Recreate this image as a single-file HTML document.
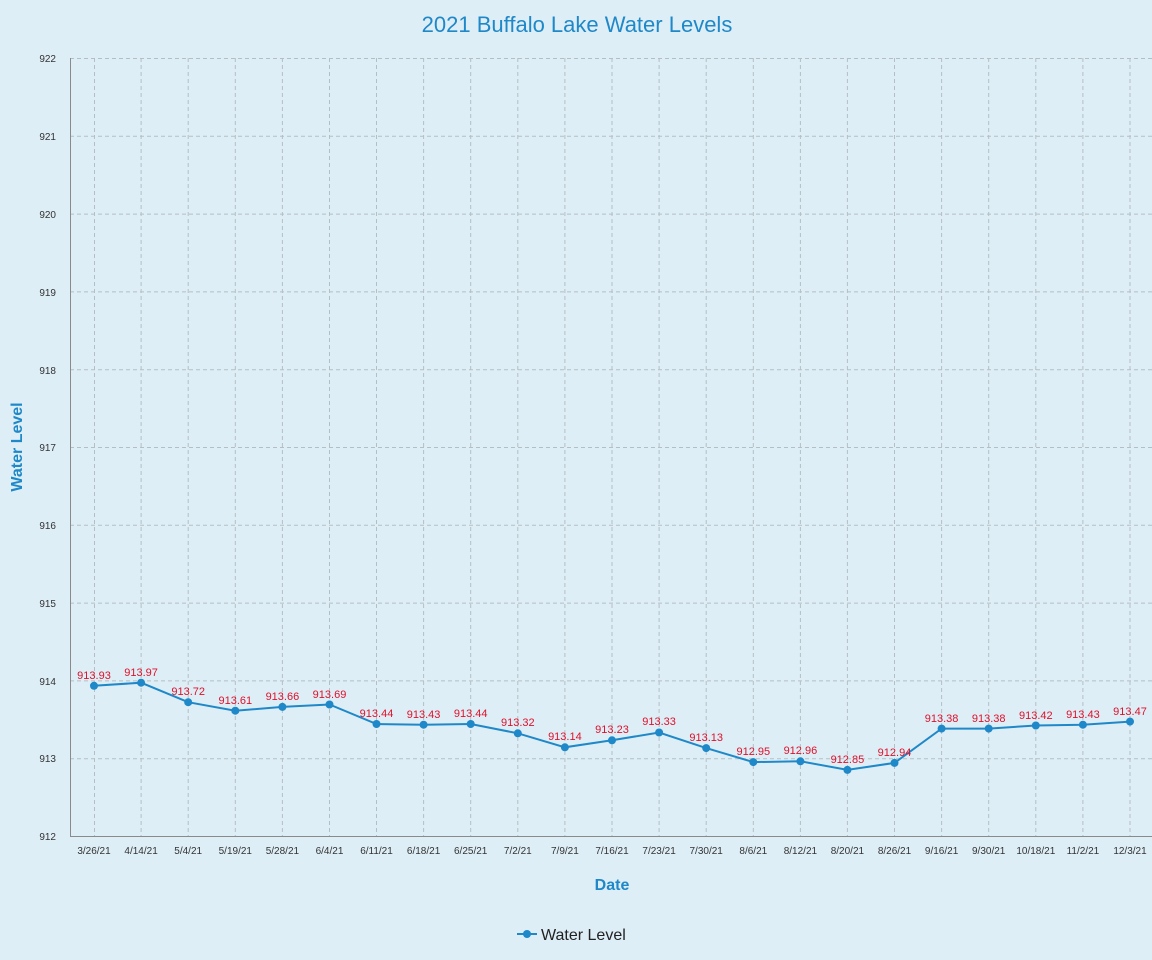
<!DOCTYPE html>
<html><head><meta charset="utf-8"><style>
html,body{margin:0;padding:0;background:#deeef6;}
svg{display:block;font-family:"Liberation Sans",sans-serif;}
</style></head><body>
<svg width="1152" height="960" viewBox="0 0 1152 960">
<rect width="1152" height="960" fill="#deeef6"/>
<text x="577" y="32" text-anchor="middle" font-size="22" fill="#1e88c8">2021 Buffalo Lake Water Levels</text>
<g stroke="#b4bfc4" stroke-width="1" stroke-dasharray="4,3">
<line x1="70" x2="1152" y1="58.5" y2="58.5"/><line x1="70" x2="1152" y1="136.3" y2="136.3"/><line x1="70" x2="1152" y1="214.1" y2="214.1"/><line x1="70" x2="1152" y1="291.9" y2="291.9"/><line x1="70" x2="1152" y1="369.7" y2="369.7"/><line x1="70" x2="1152" y1="447.5" y2="447.5"/><line x1="70" x2="1152" y1="525.3" y2="525.3"/><line x1="70" x2="1152" y1="603.1" y2="603.1"/><line x1="70" x2="1152" y1="680.9" y2="680.9"/><line x1="70" x2="1152" y1="758.7" y2="758.7"/>
<line y1="58" y2="836" x1="94.5" x2="94.5"/><line y1="58" y2="836" x1="141.1" x2="141.1"/><line y1="58" y2="836" x1="188.2" x2="188.2"/><line y1="58" y2="836" x1="235.3" x2="235.3"/><line y1="58" y2="836" x1="282.4" x2="282.4"/><line y1="58" y2="836" x1="329.5" x2="329.5"/><line y1="58" y2="836" x1="376.5" x2="376.5"/><line y1="58" y2="836" x1="423.6" x2="423.6"/><line y1="58" y2="836" x1="470.7" x2="470.7"/><line y1="58" y2="836" x1="517.8" x2="517.8"/><line y1="58" y2="836" x1="564.9" x2="564.9"/><line y1="58" y2="836" x1="612" x2="612"/><line y1="58" y2="836" x1="659.1" x2="659.1"/><line y1="58" y2="836" x1="706.2" x2="706.2"/><line y1="58" y2="836" x1="753.3" x2="753.3"/><line y1="58" y2="836" x1="800.4" x2="800.4"/><line y1="58" y2="836" x1="847.4" x2="847.4"/><line y1="58" y2="836" x1="894.5" x2="894.5"/><line y1="58" y2="836" x1="941.6" x2="941.6"/><line y1="58" y2="836" x1="988.7" x2="988.7"/><line y1="58" y2="836" x1="1035.8" x2="1035.8"/><line y1="58" y2="836" x1="1082.9" x2="1082.9"/><line y1="58" y2="836" x1="1130" x2="1130" />
</g>
<path d="M70.5 58V836.5H1152" fill="none" stroke="#8a8a8a" stroke-width="1"/>
<g font-size="10" fill="#333" text-anchor="end">
<text x="56" y="62">922</text><text x="56" y="140">921</text><text x="56" y="218">920</text><text x="56" y="296">919</text><text x="56" y="374">918</text><text x="56" y="451">917</text><text x="56" y="529">916</text><text x="56" y="607">915</text><text x="56" y="685">914</text><text x="56" y="762">913</text><text x="56" y="840">912</text>
</g>
<g font-size="10" fill="#333" text-anchor="middle">
<text x="94" y="854">3/26/21</text><text x="141.1" y="854">4/14/21</text><text x="188.2" y="854">5/4/21</text><text x="235.3" y="854">5/19/21</text><text x="282.4" y="854">5/28/21</text><text x="329.5" y="854">6/4/21</text><text x="376.5" y="854">6/11/21</text><text x="423.6" y="854">6/18/21</text><text x="470.7" y="854">6/25/21</text><text x="517.8" y="854">7/2/21</text><text x="564.9" y="854">7/9/21</text><text x="612" y="854">7/16/21</text><text x="659.1" y="854">7/23/21</text><text x="706.2" y="854">7/30/21</text><text x="753.3" y="854">8/6/21</text><text x="800.4" y="854">8/12/21</text><text x="847.4" y="854">8/20/21</text><text x="894.5" y="854">8/26/21</text><text x="941.6" y="854">9/16/21</text><text x="988.7" y="854">9/30/21</text><text x="1035.8" y="854">10/18/21</text><text x="1082.9" y="854">11/2/21</text><text x="1130" y="854">12/3/21</text>
</g>
<polyline fill="none" stroke="#1e88c8" stroke-width="2" points="94,685.8 141.1,682.7 188.2,702.2 235.3,710.7 282.4,706.9 329.5,704.5 376.5,724 423.6,724.7 470.7,724 517.8,733.3 564.9,747.3 612,740.3 659.1,732.5 706.2,748.1 753.3,762.1 800.4,761.3 847.4,769.9 894.5,762.9 941.6,728.6 988.7,728.6 1035.8,725.5 1082.9,724.7 1130,721.6"/>
<g fill="#1e88c8">
<circle cx="94" cy="685.8" r="4"/><circle cx="141.1" cy="682.7" r="4"/><circle cx="188.2" cy="702.2" r="4"/><circle cx="235.3" cy="710.7" r="4"/><circle cx="282.4" cy="706.9" r="4"/><circle cx="329.5" cy="704.5" r="4"/><circle cx="376.5" cy="724" r="4"/><circle cx="423.6" cy="724.7" r="4"/><circle cx="470.7" cy="724" r="4"/><circle cx="517.8" cy="733.3" r="4"/><circle cx="564.9" cy="747.3" r="4"/><circle cx="612" cy="740.3" r="4"/><circle cx="659.1" cy="732.5" r="4"/><circle cx="706.2" cy="748.1" r="4"/><circle cx="753.3" cy="762.1" r="4"/><circle cx="800.4" cy="761.3" r="4"/><circle cx="847.4" cy="769.9" r="4"/><circle cx="894.5" cy="762.9" r="4"/><circle cx="941.6" cy="728.6" r="4"/><circle cx="988.7" cy="728.6" r="4"/><circle cx="1035.8" cy="725.5" r="4"/><circle cx="1082.9" cy="724.7" r="4"/><circle cx="1130" cy="721.6" r="4"/>
</g>
<g font-size="11" fill="#e0102a" text-anchor="middle">
<text x="94" y="679">913.93</text><text x="141.1" y="676">913.97</text><text x="188.2" y="695">913.72</text><text x="235.3" y="704">913.61</text><text x="282.4" y="700">913.66</text><text x="329.5" y="698">913.69</text><text x="376.5" y="717">913.44</text><text x="423.6" y="718">913.43</text><text x="470.7" y="717">913.44</text><text x="517.8" y="726">913.32</text><text x="564.9" y="740">913.14</text><text x="612" y="733">913.23</text><text x="659.1" y="725">913.33</text><text x="706.2" y="741">913.13</text><text x="753.3" y="755">912.95</text><text x="800.4" y="754">912.96</text><text x="847.4" y="763">912.85</text><text x="894.5" y="756">912.94</text><text x="941.6" y="722">913.38</text><text x="988.7" y="722">913.38</text><text x="1035.8" y="719">913.42</text><text x="1082.9" y="718">913.43</text><text x="1130" y="715">913.47</text>
</g>
<text x="612" y="890" text-anchor="middle" font-size="16" font-weight="bold" fill="#1e88c8">Date</text>
<text transform="translate(22,447) rotate(-90)" text-anchor="middle" font-size="16" font-weight="bold" fill="#1e88c8">Water Level</text>
<line x1="517" x2="537" y1="934" y2="934" stroke="#1e88c8" stroke-width="2"/>
<circle cx="527" cy="934" r="4" fill="#1e88c8"/>
<text x="541" y="940" font-size="16" fill="#222">Water Level</text>
</svg>
</body></html>
